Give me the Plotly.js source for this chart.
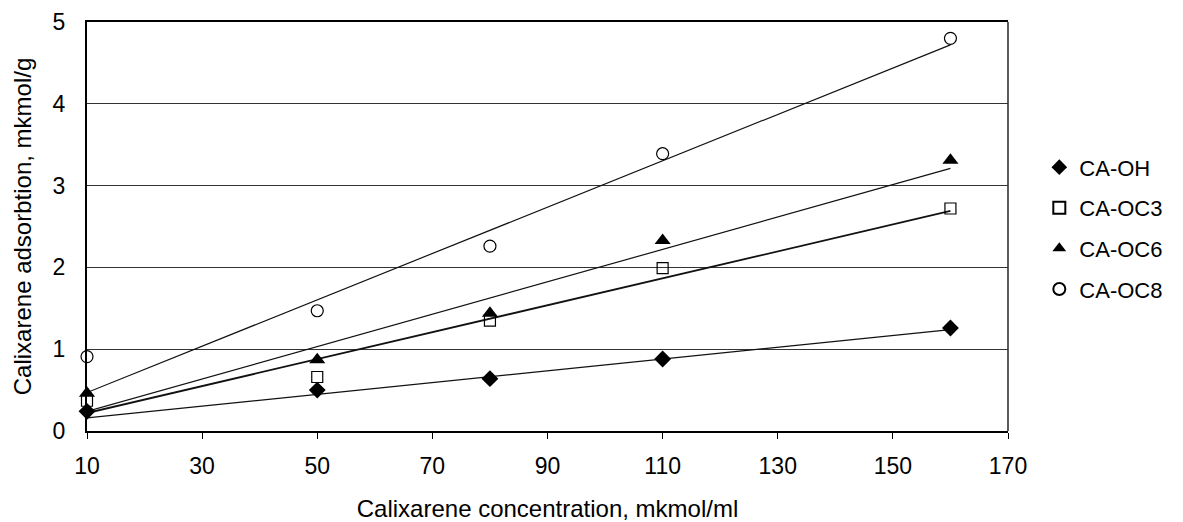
<!DOCTYPE html>
<html>
<head>
<meta charset="utf-8">
<script src="https://cdn.plot.ly/plotly-3.0.1.min.js"></script>
<style>html,body{margin:0;padding:0;background:#fff;}#chart{width:1183px;height:522px;}</style>
</head>
<body>
<div id="chart"></div>
<script>
// Data
const concentration = [10, 50, 80, 110, 160];
const seriesNames = ["CA-OH", "CA-OC3", "CA-OC6", "CA-OC8"];
const caOH  = [0.24, 0.50, 0.64, 0.88, 1.26];
const caOC3 = [0.37, 0.66, 1.35, 1.99, 2.72];
const caOC6 = [0.46, 0.87, 1.44, 2.33, 3.31];
const caOC8 = [0.91, 1.47, 2.26, 3.39, 4.80];
// Linear trend lines (value at first and last concentration)
const trendX = [10, 160];
const trendOH  = [0.16, 1.24];
const trendOC3 = [0.22, 2.69];
const trendOC6 = [0.24, 3.21];
const trendOC8 = [0.47, 4.72];
const xTicks = [10, 30, 50, 70, 90, 110, 130, 150, 170];
const yTicks = [0, 1, 2, 3, 4, 5];

const seriesValues = [caOH, caOC3, caOC6, caOC8];
const trendValues = [trendOH, trendOC3, trendOC6, trendOC8];
const symbols = ["diamond", "square-open", "triangle-up", "circle-open"];
const sizes = [13, 11, 14, 12];
const trendWidths = [1.2, 1.8, 1.2, 1.2];

const FONT = "Liberation Sans, Arial, sans-serif";
const FS = 23;
const traces = [];
trendValues.forEach((tv, i) => {
  traces.push({
    x: trendX, y: tv, mode: "lines", type: "scatter",
    line: {color: "#111", width: trendWidths[i]},
    showlegend: false, hoverinfo: "skip", cliponaxis: false
  });
});
seriesValues.forEach((sv, i) => {
  traces.push({
    x: concentration, y: sv, mode: "markers", type: "scatter",
    name: seriesNames[i], legendgroup: "g" + i,
    marker: {symbol: symbols[i], size: sizes[i], color: "#000",
             line: {color: "#000", width: (i === 1 || i === 3) ? 1.2 : 0}},
    cliponaxis: false
  });
});

const layout = {
  width: 1183, height: 522,
  margin: {l: 87, r: 175, t: 22, b: 91},
  paper_bgcolor: "#fff", plot_bgcolor: "#fff",
  font: {family: FONT, size: FS, color: "#000"},
  showlegend: true,
  legend: {
    x: 1.034, xanchor: "left", y: 0.696, yanchor: "top",
    font: {family: FONT, size: 22, color: "#000"},
    tracegroupgap: 9, itemsizing: "constant",
    bgcolor: "rgba(0,0,0,0)", borderwidth: 0
  },
  xaxis: {
    range: [10, 170], tickvals: xTicks, ticktext: xTicks.map(String),
    showgrid: false, zeroline: false,
    showline: true, linecolor: "#000", linewidth: 2, mirror: true,
    ticks: "outside", ticklen: 6, tickwidth: 1, tickcolor: "#000",
    ticklabelstandoff: 7,
    tickfont: {family: FONT, size: FS, color: "#000"},
    title: {text: "Calixarene concentration, mkmol/ml", standoff: 23,
            font: {family: FONT, size: 24, color: "#000"}}
  },
  yaxis: {
    range: [0, 5], tickvals: yTicks, ticktext: yTicks.map(String),
    showgrid: true, gridcolor: "#333", gridwidth: 1.2,
    zeroline: false,
    showline: true, linecolor: "#000", linewidth: 2, mirror: false,
    ticks: "", ticklabelstandoff: 15,
    tickfont: {family: FONT, size: FS, color: "#000"},
    title: {text: "Calixarene adsorbtion, mkmol/g", standoff: 14,
            font: {family: FONT, size: 24, color: "#000"}}
  },
  shapes: [{
    type: "line", xref: "paper", yref: "paper", x0: 1, x1: 1, y0: 0, y1: 1,
    line: {color: "#333", width: 1.6}
  }]
};

Plotly.newPlot("chart", traces, layout, {displayModeBar: false, staticPlot: true});
</script>
</body>
</html>
